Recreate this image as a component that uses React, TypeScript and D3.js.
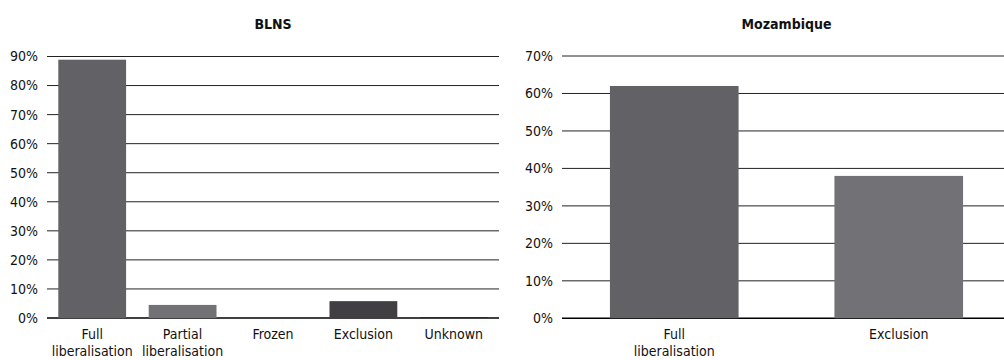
import React from "react";
import * as d3 from "d3";

// BLNS shares by treatment category
const blnsCategories = ["Full\nliberalisation", "Partial\nliberalisation", "Frozen", "Exclusion", "Unknown"];
const blnsValues = [0.889, 0.045, 0, 0.058, 0.003];
const blnsColors = ["#626165", "#727175", "#626165", "#413f44", "#2a292d"];
const blnsTicks = [0, 0.1, 0.2, 0.3, 0.4, 0.5, 0.6, 0.7, 0.8, 0.9];

// Mozambique shares by treatment category
const mozCategories = ["Full\nliberalisation", "Exclusion"];
const mozValues = [0.62, 0.38];
const mozColors = ["#626165", "#727175"];
const mozTicks = [0, 0.1, 0.2, 0.3, 0.4, 0.5, 0.6, 0.7];

const FONT = "'Liberation Sans Narrow', 'DejaVu Sans Condensed', sans-serif";

type PanelProps = {
  title: string;
  categories: string[];
  values: number[];
  colors: string[];
  ticks: number[];
  x0: number;
  x1: number;
  gridEnd: number;
  yTop: number;
  yBottom: number;
  paddingInner: number;
  paddingOuter: number;
};

function Panel(p: PanelProps) {
  const x = d3
    .scaleBand<string>()
    .domain(p.categories)
    .range([p.x0, p.x1])
    .paddingInner(p.paddingInner)
    .paddingOuter(p.paddingOuter);
  const y = d3
    .scaleLinear()
    .domain([0, p.ticks[p.ticks.length - 1]])
    .range([p.yBottom, p.yTop]);
  const fmt = d3.format(".0%");
  const gridEnd = Math.min(p.gridEnd, p.x1);

  return (
    <g>
      <text
        x={(p.x0 + p.x1) / 2}
        y={29}
        textAnchor="middle"
        fontFamily={FONT}
        fontWeight="bold"
        fontSize={14}
        fill="#111"
      >
        {p.title}
      </text>
      {p.ticks.map((t) => (
        <g key={t}>
          <line
            x1={p.x0}
            x2={gridEnd}
            y1={y(t)}
            y2={y(t)}
            stroke={t === 0 ? "#000" : "#222"}
            strokeWidth={t === 0 ? 1.6 : 1}
          />
          <text
            x={p.x0 - 9}
            y={y(t)}
            dy="0.35em"
            textAnchor="end"
            fontFamily={FONT}
            fontSize={14}
            fill="#111"
          >
            {fmt(t)}
          </text>
        </g>
      ))}
      {p.categories.map((c, i) => (
        <rect
          key={c}
          x={x(c)}
          width={x.bandwidth()}
          y={y(p.values[i])}
          height={y(0) - y(p.values[i])}
          fill={p.colors[i]}
        />
      ))}
      {p.categories.map((c) => {
        const lines = c.split("\n");
        const cx = (x(c) ?? 0) + x.bandwidth() / 2;
        return (
          <text
            key={c}
            x={cx}
            y={339}
            textAnchor="middle"
            fontFamily={FONT}
            fontSize={14}
            fill="#111"
          >
            {lines.map((l, k) => (
              <tspan key={k} x={cx} dy={k === 0 ? 0 : 17}>
                {l}
              </tspan>
            ))}
          </text>
        );
      })}
    </g>
  );
}

export default function App() {
  return (
    <svg
      width={1004}
      height={360}
      style={{ position: "absolute", left: 0, top: 0, background: "#fff" }}
    >
      <Panel
        title="BLNS"
        categories={blnsCategories}
        values={blnsValues}
        colors={blnsColors}
        ticks={blnsTicks}
        x0={47}
        x1={499}
        gridEnd={499}
        yTop={56.5}
        yBottom={318}
        paddingInner={0.25}
        paddingOuter={0.125}
      />
      <Panel
        title="Mozambique"
        categories={mozCategories}
        values={mozValues}
        colors={mozColors}
        ticks={mozTicks}
        x0={562}
        x1={1011}
        gridEnd={1004}
        yTop={56}
        yBottom={318.3}
        paddingInner={0.427}
        paddingOuter={0.2135}
      />
    </svg>
  );
}
